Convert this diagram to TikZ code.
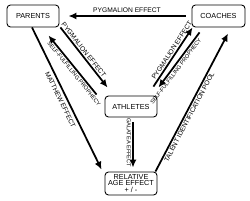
\documentclass[tikz,border=0pt]{standalone}
\usepackage{fontspec}
\setmainfont{Liberation Sans}
\usetikzlibrary{arrows.meta,positioning,calc}
\tikzset{every picture/.style={line width=0.75pt}}
\tikzset{
    party/.style={draw,rounded corners=4pt,line width=1pt,minimum width=2.08cm,
        align=center,font=\fontsize{8.3}{7.6}\selectfont},
    flow/.style={-{Latex[length=9pt,width=8pt]},line width=2pt},
    lbl/.style={font=\fontsize{7.6}{7.6}\selectfont,sloped,inner sep=1.5pt},
    slbl/.style={font=\fontsize{6.4}{6.4}\selectfont,sloped,inner sep=1.5pt}
}

\begin{document}
\begin{tikzpicture}
    \useasboundingbox (0,0) rectangle (10,8);
    % the four groups
    \node[party,minimum height=0.88cm] (parents) at (1.32,7.36) {PARENTS};
    \node[party,minimum height=0.88cm,minimum width=2.12cm] (coaches) at (8.74,7.36) {COACHES};
    \node[party,minimum height=0.84cm] (athletes) at (5.24,3.74) {ATHLETES};
    \node[party,minimum height=0.92cm,inner sep=1pt] (rae) at (5.24,0.66) {RELATIVE\\AGE EFFECT\\+ / -};

    % coaches and parents
    \draw[flow] ([xshift=-0.24cm]coaches.west) -- node[lbl,above=1pt] {PYGMALION EFFECT} ([xshift=0.36cm]parents.east);

    % parents and athletes
    \draw[flow] ([xshift=0.04cm]parents.south east) -- node[lbl,above,pos=0.42] {PYGMALION EFFECT} ([shift={(0.12,0.32)}]athletes.north west);
    \draw[flow] ([shift={(-0.32,0.04)}]athletes.north west) -- node[slbl,below,pos=0.4] {SELF-FULFILLING PROPHECY} ([shift={(-0.44,-0.32)}]parents.south east);
    \draw[flow] ([xshift=-0.04cm]parents.south) -- node[lbl,below=2pt,pos=0.49] {MATTHEW EFFECT} ([shift={(-0.12,0.08)}]rae.north west);

    % athletes and coaches
    \draw[flow] ([shift={(-0.16,0.36)}]athletes.north east) -- node[lbl,above,pos=0.57] {PYGMALION EFFECT} ([xshift=0.04cm]coaches.south west);
    \draw[flow] ([shift={(0.32,-0.2)}]coaches.south west) -- node[slbl,below,pos=0.66] {SELF-FULFILLING PROPHECY} ([shift={(0.04,0.32)}]athletes.north east);
    \draw[flow] ([xshift=-0.08cm]rae.north east) -- node[lbl,below,pos=0.41] {TALENT IDENTIFICATION POOL} ([shift={(0.38,-0.24)}]coaches.south);

    % athletes and age effect
    \draw[flow] ([shift={(0.08,-0.2)}]athletes.south) -- node[slbl,below,pos=0.45] {GALATEA EFFECT} ([shift={(0.08,0.16)}]rae.north);
\end{tikzpicture}
\end{document}
